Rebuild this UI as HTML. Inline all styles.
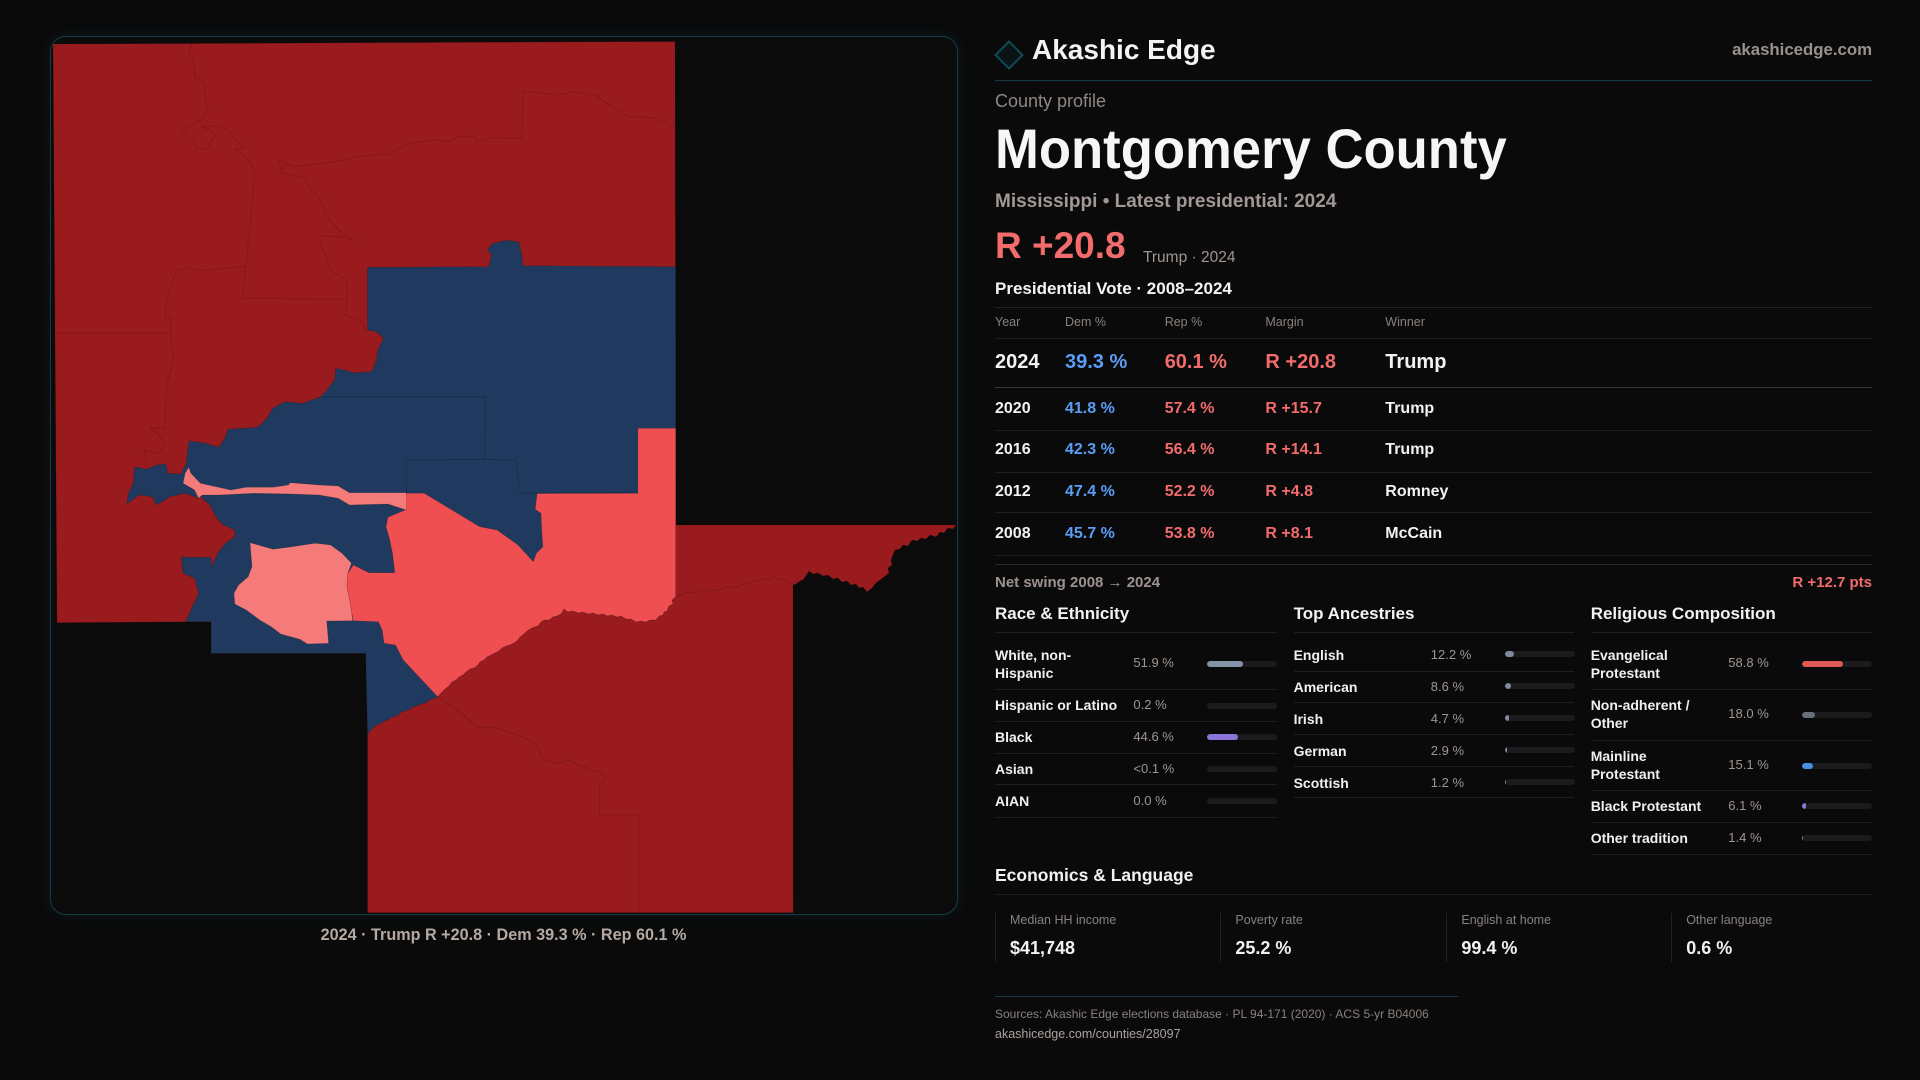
<!DOCTYPE html>
<html><head><meta charset="utf-8"><title>Montgomery County</title>
<style>
html,body{margin:0;padding:0}
body{width:1920px;height:1080px;background:#0a0a0b;overflow:hidden;position:relative;font-family:"Liberation Sans",sans-serif;color:#f4f2f0}
.t{position:absolute;white-space:nowrap;line-height:1}
.b{font-weight:bold}
.hl{position:absolute;height:1px;background:#1f1f22}
.lab{position:absolute;font-size:14px;line-height:18px;font-weight:bold;color:#f2f0ee;white-space:nowrap}
.val{position:absolute;font-size:13px;line-height:18px;color:#a0958f;white-space:nowrap}
.trk{position:absolute;height:6px;width:70px;border-radius:3px;background:#1b1b1e;overflow:hidden}
.trk i{position:absolute;left:0;top:0;bottom:0;border-radius:3px}
.th{position:absolute;font-size:12.5px;line-height:1;color:#8a817c;white-space:nowrap}
.r1{position:absolute;font-size:20px;line-height:1;font-weight:bold;white-space:nowrap}
.r2{position:absolute;font-size:16px;line-height:1;font-weight:bold;white-space:nowrap}
.dem{color:#5b9df5}.rep{color:#f26c6c}
.sh{position:absolute;font-size:17px;line-height:1;font-weight:bold;color:#f4f2f0;white-space:nowrap}
.el{position:absolute;font-size:12.5px;line-height:1;color:#8a817c;white-space:nowrap}
.ev{position:absolute;font-size:18px;line-height:1;font-weight:bold;color:#f4f2f0;white-space:nowrap}
.vl{position:absolute;width:1px;top:913px;height:49px;background:#222225}
</style></head>
<body>

<div style="position:absolute;left:49.5px;top:36px;width:908.5px;height:879px;box-sizing:border-box;border:1.5px solid #113e45;border-radius:16px;background:#0b0b0c;box-shadow:0 0 14px rgba(30,140,150,0.12)"></div>

<svg style="position:absolute;left:0;top:0" width="1920" height="1080" viewBox="0 0 1920 1080">
<g stroke="rgba(0,0,0,0.18)" stroke-width="0.7" stroke-linejoin="round">
<polygon fill="#9a1b1e" points="53,44 675,41.5 676,525 956,525 953,529 948,528 944,533 940,532 936,537 930,535 926,539 921,538 917,541 912,540 908,546 903,545 900,549 895,550 893,555 891,560 892,565 888,568 889,573 884,577 880,580 876,583 872,588 867,592 863,587 859,588 856,584 851,585 847,581 842,582 838,578 833,579 828,575 823,576 818,573 813,574 809,571 806,576 803,580 800,581 796,584 793,585 793.2,912.7 367.5,912.7 367.5,735 365.7,653.3 211.1,653.3 211.1,621.7 57,622.7"/>
<polygon fill="#1f3a5e" points="367.5,267.3 488.6,266.7 491.6,255 487.4,250 492.8,243.3 506.6,240.3 518.6,241.7 521.6,253.3 522.8,265.7 675.7,266.7 675.7,596.7 672,600 673,604 669,606 667,611 664,612 663,615 659,616 656,620 650,620 646,622 641,621 636,622 631,619 626,619 621,616 617,617 612,615 607,616 603,614 598,615 593,613 588,614 583,612 578,613 573,611 568,612 564,609 561,614 557,616 553,617 549,620 544,620 541,622 538,626 534,627 530,629 527,631 524,634 520,637 518,640 514,643 510,645 506,646 502,648 499,651 495,653 491,655 487,657 484,660 480,662 478,665 474,668 470,669 466,672 463,675 459,677 456,680 452,682 449,686 445,689 442,692 437.6,696.7 433,699 429,700 426,703 421,704 417,706 412,707 409,710 404,711 400,713 397,716 392,717 388,720 384,721 380,724 376,725 373,728 370,731 367.5,735 365.7,653.3 211.1,653.3 211.1,621.7 185.8,621.7 190.8,610 196.5,598.3 198.5,593.3 194.6,578.3 183.1,573.3 181.2,557.3 211.1,557.3 211.8,566.7 217.6,553.3 225.2,543.3 234.8,536.7 234.8,530 223.3,525 215.7,516.7 209.9,505 200.4,496.7 198.5,498.3 185.1,493.3 169.8,496.7 162.1,501.7 156.4,505 152.5,496.7 139.1,495 126.9,504 128.4,493.3 133.4,483.3 134.5,466.7 146.8,469.3 156.4,465 165.9,464 167.8,473.3 181.2,474 184.3,466.7 185.9,465 188.9,441 203.9,442.7 218.8,447.3 224.8,438.3 227.8,429.3 257.8,427.3 266.8,418.3 272.8,408.3 284.8,401.7 302.8,403.3 320.8,396.7 326.8,390 334.6,380 335.8,368.3 344.7,370 353.7,372.7 371.7,371.7 376.5,360 377.7,350 383.7,338.3 376.5,331.7 367.5,330"/>
<polygon fill="#ef4f50" points="406.3,493.3 424.2,493.3 449.1,508.3 479.7,526.7 497,530 518,545 533.3,561.7 536.4,553.3 542.9,546.7 541.7,530 541,513.3 535.2,509.3 537.1,493.3 637.9,493.3 637.9,428.3 675.7,428.3 675.7,596.7 672,600 673,604 669,606 667,611 664,612 663,615 659,616 656,620 650,620 646,622 641,621 636,622 631,619 626,619 621,616 617,617 612,615 607,616 603,614 598,615 593,613 588,614 583,612 578,613 573,611 568,612 564,609 561,614 557,616 553,617 549,620 544,620 541,622 538,626 534,627 530,629 527,631 524,634 520,637 518,640 514,643 510,645 506,646 502,648 499,651 495,653 491,655 487,657 484,660 480,662 478,665 474,668 470,669 466,672 463,675 459,677 456,680 452,682 449,686 445,689 442,692 437.6,696.7 403.2,660 395.5,645 384.1,643.3 382.2,630 378.3,621.7 353.4,620.7 351.5,611.7 349.6,600 346.9,586.7 347.7,573.3 353.4,565 368.8,572.7 394.8,572.7 392.5,553.3 389.8,540 386,526.7 387.9,517.3 405.1,510"/>
<polygon fill="#f47b79" points="250.1,542.7 273.1,549.3 292.2,546.7 315.2,543.3 330.5,545 342,553.3 351.5,563.3 347.7,573.3 346.9,586.7 349.6,600 351.5,611.7 352.7,620.7 326.7,621 328.6,643.3 307.5,644 299.9,639.3 280.7,634 271.2,626.7 259.7,620 246.3,610 234.8,604 234,593.3 238.6,585 248.2,576.7 252,566.7"/>
<polygon fill="#f47b79" points="188.9,467.3 190.8,473.3 200.4,483.3 231,490 246.3,487.3 273.1,487.3 288.4,485 290.3,482.7 319,485 338.1,486 349.6,492.7 406.3,492.7 406.3,510 387.9,504 349.6,505 338.1,498.3 319,495 292.2,494 253.9,493.3 219.5,495 202.3,495 198.5,498.3 194.6,490 183.1,483.3 185.1,473.3"/>
</g>
<g fill="none" stroke="#6e1215" stroke-width="0.8" stroke-linejoin="round" opacity="0.6">
<polyline points="191.9,44 188.9,51.7 193.7,61.7 194.9,78.3 203.9,81.7 205.7,100 208.1,110 203.9,118.3 185.9,128.3 182.9,132.7 193.1,138.3 196.7,148.3 206.9,149.3 209.9,143.3 215.9,135 209.9,130 200.9,126.7 215.9,126 227.8,130 239.8,143.3 244.6,147.7 235,149.3 248.8,160 254.8,171.7 251.8,206.7 245.8,266.7 242.8,298.3 347.7,299.3 344.7,315 362.7,321.7 365.7,330"/>
<polyline points="278.8,160 293.8,166.7 323.8,163.3 347.7,159.3 359.7,156 389.7,154 407.7,143.3 431.7,140 449.7,141.7 458.7,136.7 473.6,136 476.6,141.7 491.6,137.3 509.6,138.3 521.6,138.3 522.8,91.7 539.6,92.7 557.6,95 575.6,91.7 596.6,96 614.5,108.3 629.5,116.7 653.5,117.7 665.5,123.3 674.5,128.3"/>
<polyline points="278.8,160 281.8,173.3 302.8,176.7 308.8,186.7 320.8,200 326.8,216.7 338.8,230 353.7,240 341.8,236.7 320.8,236 320.8,246.7 326.8,256.7 329.8,270 341.8,276.7 347.7,283.3 346.5,298.3"/>
<polyline points="245.8,266.7 227.8,267.7 200.9,270.7 190.7,268 176.9,270 167.9,293.3 164.9,316.7 170.9,318.3 170.9,340 173.9,360 166.7,383.3 164.9,428.3 149.9,428.3 158.9,435 164.9,443.3 158.9,453.3 143.9,450 146.9,466.7"/>
<polyline points="57,333.3 170.9,333.3"/>
<polyline points="437.7,696.7 461.7,713.3 476.6,726.7 497.6,728.3 521.6,736.7 536.6,743.3 542.6,760 557.6,763.3 569.6,760 578.6,765 602.5,773.3 605.5,780 599.5,783.3 599.5,815 638.5,815 638.5,912.7"/>
<polyline points="676,596.7 682,594 689.5,591.7 695,593 702,590 710,591 719.5,590 726,587 733,588 741,585 749.4,583.3 756,581 762,579 768,580 773.4,576.7 779,579 785,580 793.2,585"/>
</g>
<g fill="none" stroke="#152c49" stroke-width="0.8" opacity="0.8">
<polyline points="320.8,396.7 485.6,396.7 484.4,459.3 405.9,460 406.5,493.3"/>
<polyline points="484.4,459.3 515.6,460 520.4,493.3 637.9,492.7"/>
</g>
</svg>

<div class="t b" style="left:0;width:1007px;text-align:center;top:927.2px;font-size:16.2px;color:#b5aaa3">2024 · Trump R +20.8 · Dem 39.3 % · Rep 60.1 %</div>

<svg style="position:absolute;left:994px;top:40px" width="30" height="30" viewBox="0 0 30 30"><polygon points="15,1.5 28.5,15 15,28.5 1.5,15" fill="rgba(13,80,88,0.15)" stroke="#0d4c53" stroke-width="2"/></svg>
<div class="t b" style="left:1032px;top:36.3px;font-size:28px;color:#f6f4f2">Akashic Edge</div>
<div class="t b" style="right:48px;top:42.3px;font-size:16.8px;color:#9a918c">akashicedge.com</div>
<div class="hl" style="left:995px;width:877px;top:80px;background:#123c42"></div>

<div class="t" style="left:995px;top:92.1px;font-size:18px;color:#8f8783">County profile</div>
<div class="t b" style="left:995px;top:120.9px;font-size:56px;color:#f8f6f4;transform:scaleX(0.94);transform-origin:0 0">Montgomery County</div>
<div class="t b" style="left:995px;top:192.2px;font-size:19px;color:#a29894">Mississippi • Latest presidential: 2024</div>
<div class="t b" style="left:995px;top:227px;font-size:37px;color:#f26c6c">R +20.8</div>
<div class="t" style="left:1143px;top:250.3px;font-size:15.5px;color:#a0958f">Trump · 2024</div>
<div class="t b" style="left:995px;top:279.6px;font-size:17px;color:#f6f4f2">Presidential Vote · 2008–2024</div>
<div class="hl" style="left:995px;width:877px;top:307px;background:#222225"></div>

<div class="th" style="left:995px;top:316.1px">Year</div>
<div class="th" style="left:1065px;top:316.1px">Dem %</div>
<div class="th" style="left:1164.7px;top:316.1px">Rep %</div>
<div class="th" style="left:1265.4px;top:316.1px">Margin</div>
<div class="th" style="left:1385.3px;top:316.1px">Winner</div>
<div class="hl" style="left:995px;width:877px;top:338px"></div>

<div class="r1" style="left:995px;top:352.4px">2024</div>
<div class="r1 dem" style="left:1065px;top:352.4px">39.3 %</div>
<div class="r1 rep" style="left:1164.7px;top:352.4px">60.1 %</div>
<div class="r1 rep" style="left:1265.4px;top:352.4px">R +20.8</div>
<div class="r1" style="left:1385.3px;top:352.4px">Trump</div>
<div class="hl" style="left:995px;width:877px;top:387px;background:#34343a"></div>

<div class="r2" style="left:995px;top:400.8px">2020</div>
<div class="r2 dem" style="left:1065px;top:400.8px">41.8 %</div>
<div class="r2 rep" style="left:1164.7px;top:400.8px">57.4 %</div>
<div class="r2 rep" style="left:1265.4px;top:400.8px">R +15.7</div>
<div class="r2" style="left:1385.3px;top:400.8px">Trump</div>
<div class="hl" style="left:995px;width:877px;top:430px"></div>

<div class="r2" style="left:995px;top:442.2px">2016</div>
<div class="r2 dem" style="left:1065px;top:442.2px">42.3 %</div>
<div class="r2 rep" style="left:1164.7px;top:442.2px">56.4 %</div>
<div class="r2 rep" style="left:1265.4px;top:442.2px">R +14.1</div>
<div class="r2" style="left:1385.3px;top:442.2px">Trump</div>
<div class="hl" style="left:995px;width:877px;top:471.5px"></div>

<div class="r2" style="left:995px;top:483.8px">2012</div>
<div class="r2 dem" style="left:1065px;top:483.8px">47.4 %</div>
<div class="r2 rep" style="left:1164.7px;top:483.8px">52.2 %</div>
<div class="r2 rep" style="left:1265.4px;top:483.8px">R +4.8</div>
<div class="r2" style="left:1385.3px;top:483.8px">Romney</div>
<div class="hl" style="left:995px;width:877px;top:512px"></div>

<div class="r2" style="left:995px;top:525.5px">2008</div>
<div class="r2 dem" style="left:1065px;top:525.5px">45.7 %</div>
<div class="r2 rep" style="left:1164.7px;top:525.5px">53.8 %</div>
<div class="r2 rep" style="left:1265.4px;top:525.5px">R +8.1</div>
<div class="r2" style="left:1385.3px;top:525.5px">McCain</div>
<div class="hl" style="left:995px;width:877px;top:555px"></div>
<div class="hl" style="left:995px;width:877px;top:564px;background:#2c2c30"></div>

<div class="t b" style="left:995px;top:575px;font-size:15px;color:#9d938e">Net swing 2008 → 2024</div>
<div class="t b" style="right:48px;top:575px;font-size:15px;color:#f26c6c">R +12.7 pts</div>

<div class="sh" style="left:995px;top:605px">Race &amp; Ethnicity</div>
<div class="sh" style="left:1293.6px;top:605px">Top Ancestries</div>
<div class="sh" style="left:1590.7px;top:605px">Religious Composition</div>
<div class="hl" style="left:995px;width:282px;top:632px"></div>
<div class="hl" style="left:1294px;width:280px;top:632px"></div>
<div class="hl" style="left:1591px;width:281px;top:632px"></div>

<div class="lab" style="left:995px;top:645.5px">White, non-<br>Hispanic</div>
<div class="val" style="left:1133.4px;top:653.5px">51.9 %</div>
<div class="trk" style="left:1207px;top:661px"><i style="width:36px;background:#8693a6"></i></div>
<div class="hl" style="left:995px;width:282px;top:689px"></div>

<div class="lab" style="left:995px;top:696.2px">Hispanic or Latino</div>
<div class="val" style="left:1133.4px;top:696.2px">0.2 %</div>
<div class="trk" style="left:1207px;top:702.5px"></div>
<div class="hl" style="left:995px;width:282px;top:721px"></div>

<div class="lab" style="left:995px;top:727.9px">Black</div>
<div class="val" style="left:1133.4px;top:727.9px">44.6 %</div>
<div class="trk" style="left:1207px;top:734px"><i style="width:31px;background:#8c75d9"></i></div>
<div class="hl" style="left:995px;width:282px;top:753px"></div>

<div class="lab" style="left:995px;top:760.2px">Asian</div>
<div class="val" style="left:1133.4px;top:760.2px">&lt;0.1 %</div>
<div class="trk" style="left:1207px;top:766px"></div>
<div class="hl" style="left:995px;width:282px;top:784px"></div>

<div class="lab" style="left:995px;top:791.9px">AIAN</div>
<div class="val" style="left:1133.4px;top:791.9px">0.0 %</div>
<div class="trk" style="left:1207px;top:798px"></div>
<div class="hl" style="left:995px;width:282px;top:817px"></div>

<div class="lab" style="left:1293.6px;top:645.5px">English</div>
<div class="val" style="left:1430.8px;top:645.5px">12.2 %</div>
<div class="trk" style="left:1505px;top:651px"><i style="width:8.5px;background:#7f8a9c"></i></div>
<div class="hl" style="left:1294px;width:280px;top:670.5px"></div>

<div class="lab" style="left:1293.6px;top:677.5px">American</div>
<div class="val" style="left:1430.8px;top:677.5px">8.6 %</div>
<div class="trk" style="left:1505px;top:683px"><i style="width:6px;background:#7f8a9c"></i></div>
<div class="hl" style="left:1294px;width:280px;top:702px"></div>

<div class="lab" style="left:1293.6px;top:709.5px">Irish</div>
<div class="val" style="left:1430.8px;top:709.5px">4.7 %</div>
<div class="trk" style="left:1505px;top:715px"><i style="width:3.5px;background:#7f8a9c"></i></div>
<div class="hl" style="left:1294px;width:280px;top:734px"></div>

<div class="lab" style="left:1293.6px;top:741.5px">German</div>
<div class="val" style="left:1430.8px;top:741.5px">2.9 %</div>
<div class="trk" style="left:1505px;top:747px"><i style="width:2px;background:#7f8a9c"></i></div>
<div class="hl" style="left:1294px;width:280px;top:766px"></div>

<div class="lab" style="left:1293.6px;top:773.5px">Scottish</div>
<div class="val" style="left:1430.8px;top:773.5px">1.2 %</div>
<div class="trk" style="left:1505px;top:779px"><i style="width:1px;background:#7f8a9c"></i></div>
<div class="hl" style="left:1294px;width:280px;top:797px"></div>

<div class="lab" style="left:1590.7px;top:645.5px">Evangelical<br>Protestant</div>
<div class="val" style="left:1728.3px;top:653.5px">58.8 %</div>
<div class="trk" style="left:1802px;top:661px"><i style="width:41px;background:#e05858"></i></div>
<div class="hl" style="left:1591px;width:281px;top:689px"></div>

<div class="lab" style="left:1590.7px;top:696.2px">Non-adherent /<br>Other</div>
<div class="val" style="left:1728.3px;top:705.2px">18.0 %</div>
<div class="trk" style="left:1802px;top:711.7px"><i style="width:13px;background:#6a6f7c"></i></div>
<div class="hl" style="left:1591px;width:281px;top:740px"></div>

<div class="lab" style="left:1590.7px;top:747.2px">Mainline<br>Protestant</div>
<div class="val" style="left:1728.3px;top:755.9px">15.1 %</div>
<div class="trk" style="left:1802px;top:762.7px"><i style="width:11px;background:#4b8fe2"></i></div>
<div class="hl" style="left:1591px;width:281px;top:790px"></div>

<div class="lab" style="left:1590.7px;top:796.9px">Black Protestant</div>
<div class="val" style="left:1728.3px;top:796.9px">6.1 %</div>
<div class="trk" style="left:1802px;top:802.7px"><i style="width:4px;background:#8c75d9"></i></div>
<div class="hl" style="left:1591px;width:281px;top:822px"></div>

<div class="lab" style="left:1590.7px;top:828.9px">Other tradition</div>
<div class="val" style="left:1728.3px;top:828.9px">1.4 %</div>
<div class="trk" style="left:1802px;top:834.7px"><i style="width:1px;background:#8a8a8a"></i></div>
<div class="hl" style="left:1591px;width:281px;top:854px"></div>

<div class="sh" style="left:995px;top:867.2px;font-size:17.5px">Economics &amp; Language</div>
<div class="hl" style="left:995px;width:877px;top:894px"></div>

<div class="vl" style="left:995px"></div>
<div class="vl" style="left:1219.8px"></div>
<div class="vl" style="left:1446.4px"></div>
<div class="vl" style="left:1671.2px"></div>

<div class="el" style="left:1010px;top:914.4px">Median HH income</div>
<div class="ev" style="left:1010px;top:939.1px">$41,748</div>
<div class="el" style="left:1235.4px;top:914.4px">Poverty rate</div>
<div class="ev" style="left:1235.4px;top:939.1px">25.2 %</div>
<div class="el" style="left:1461.4px;top:914.4px">English at home</div>
<div class="ev" style="left:1461.4px;top:939.1px">99.4 %</div>
<div class="el" style="left:1686.2px;top:914.4px">Other language</div>
<div class="ev" style="left:1686.2px;top:939.1px">0.6 %</div>

<div class="hl" style="left:995px;width:463px;top:995.5px;background:#123c42"></div>
<div class="t" style="left:995px;top:1007.5px;font-size:12px;color:#8a817c">Sources: Akashic Edge elections database · PL 94-171 (2020) · ACS 5-yr B04006</div>
<div class="t" style="left:995px;top:1027.7px;font-size:12.5px;color:#aaa29d">akashicedge.com/counties/28097</div>

</body></html>
